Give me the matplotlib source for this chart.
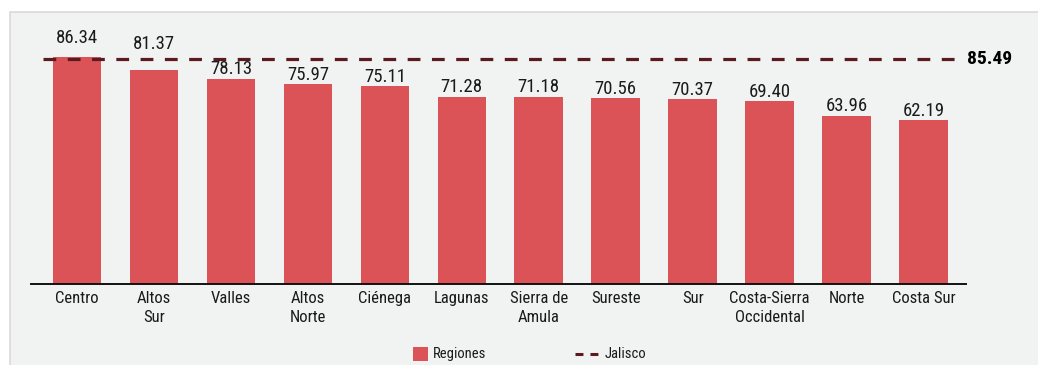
import matplotlib
matplotlib.use("Agg")
import matplotlib.pyplot as plt
from matplotlib import font_manager as fm
from matplotlib.lines import Line2D
from matplotlib.patches import Rectangle

regiones = ["Centro", "Altos\nSur", "Valles", "Altos\nNorte", "Ciénega", "Lagunas",
            "Sierra de\nAmula", "Sureste", "Sur", "Costa-Sierra\nOccidental", "Norte", "Costa Sur"]
valores = [86.34, 81.37, 78.13, 75.97, 75.11, 71.28, 71.18, 70.56, 70.37, 69.40, 63.96, 62.19]
jalisco = 85.49
leyenda = ["Regiones", "Jalisco"]

# pick a narrow sans family when one is installed
installed = {f.name for f in fm.fontManager.ttflist}
narrow = [n for n in ("Liberation Sans Narrow", "Roboto Condensed", "Open Sans Condensed",
                      "Arial Narrow", "DejaVu Sans") if n in installed]
plt.rcParams["font.family"] = narrow[:1] + ["DejaVu Sans"]

BAR = "#db5356"
LINE = "#5b1a1f"
BG = "#f1f2f2"
TXT = "#1a1a1a"

W, H = 1038, 365
fig = plt.figure(figsize=(W / 100, H / 100), dpi=100)
fig.patch.set_facecolor("white")
fig.patches.append(Rectangle((10 / W, -0.1), 1, 1.1 - 12 / H, transform=fig.transFigure,
                             facecolor=BG, edgecolor="#d9d9d9", linewidth=1.2, zorder=-5))


def fx(px):
    return px / W


def fy(py):
    return 1 - py / H


# axes: baseline at y=284 px, x from 31 to 966 px
x0, x1 = 31, 966
y0, y1 = 284, 20
ax = fig.add_axes([fx(x0), fy(y0), (x1 - x0) / W, (y0 - y1) / H])
ax.set_facecolor("none")
step = 76.95
ax.set_xlim(-0.5 - (38.5 - x0) / step, 11 + (x1 - 923.5) / step)
ax.set_ylim(0, (y0 - y1) / 2.63)

pos = list(range(len(valores)))
bars = ax.bar(pos, valores, width=0.63, color=BAR, zorder=2)

# Jalisco reference line
xl = ax.get_xlim()
ax.plot([xl[0] + (43 - x0) / step, xl[0] + (958 - x0) / step], [jalisco, jalisco],
        color=LINE, lw=2.3, dashes=(4.0, 3.6), zorder=3, clip_on=False)
ax.annotate(f"{jalisco:.2f}", xy=(1, jalisco), xycoords=("axes fraction", "data"),
            xytext=(1, 0), textcoords="offset points", ha="left", va="center",
            fontsize=14, fontweight="bold", color="black", annotation_clip=False)

# value labels; the two top bars have theirs raised above the reference line
lift = {0: 7, 1: 12}
for i, (b, v) in enumerate(zip(bars, valores)):
    ax.annotate(f"{v:.2f}", xy=(b.get_x() + b.get_width() / 2, v),
                xytext=(0, 0.3 + lift.get(i, 0)), textcoords="offset points",
                ha="center", va="bottom", fontsize=13.5, color=TXT)

ax.set_xticks(pos)
ax.set_xticklabels(regiones, fontsize=12, linespacing=1.35, color=TXT)
ax.tick_params(axis="x", length=0, pad=5)
ax.set_yticks([])
for s in ("left", "right", "top"):
    ax.spines[s].set_visible(False)
ax.spines["bottom"].set_color("#111111")
ax.spines["bottom"].set_linewidth(1.4)

# legend below the chart
ly = 354
fig.patches.append(Rectangle((fx(413), fy(361)), 15 / W, 14 / H, transform=fig.transFigure,
                             facecolor=BAR, edgecolor="none"))
fig.text(fx(433), fy(ly), leyenda[0], fontsize=10.5, va="center", ha="left", color=TXT)
fig.lines.append(Line2D([fx(575), fx(598)], [fy(ly), fy(ly)], transform=fig.transFigure,
                        color=LINE, lw=2.2, dashes=(2.6, 2.3)))
fig.text(fx(605), fy(ly), leyenda[1], fontsize=10.5, va="center", ha="left", color=TXT)

fig.savefig("out.png", dpi=100, facecolor=fig.get_facecolor())
